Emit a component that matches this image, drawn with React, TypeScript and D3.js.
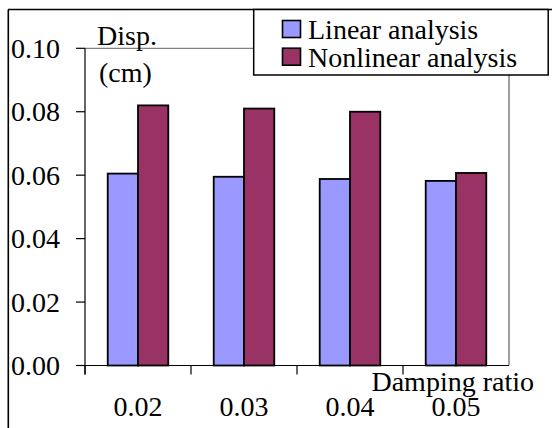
import React from "react";
import * as d3 from "d3";

// damping ratios along the x axis
const categories = ["0.02", "0.03", "0.04", "0.05"];
const seriesNames = ["Linear analysis", "Nonlinear analysis"];
const linearDisp = [0.0605, 0.0595, 0.0588, 0.0582];
const nonlinearDisp = [0.082, 0.081, 0.08, 0.0607];
const yTicks = [0, 0.02, 0.04, 0.06, 0.08, 0.1];
const colors = ["#9999FF", "#993366"];

const W = 552, H = 428;
const plot = { left: 85, right: 509, top: 48.3, bottom: 365.5 };
const txt = { fontFamily: "Liberation Serif, DejaVu Serif, serif", fontSize: 28 };

const App = () => {
  const series = [linearDisp, nonlinearDisp];

  const x0 = d3.scaleBand().domain(categories).range([plot.left, plot.right]).padding(0);
  const x1 = d3.scaleBand().domain(seriesNames).range([0, x0.bandwidth()])
    .paddingInner(0).paddingOuter(0.75);
  const y = d3.scaleLinear().domain([0, 0.1]).range([plot.bottom, plot.top]);
  const fmt = d3.format(".2f");

  return (
    <svg width={W} height={H} style={{ position: "absolute", left: 0, top: 0, background: "#fff" }}>
      {/* outer frame, cut off at right and bottom */}
      <line x1={8} y1={9.5} x2={W} y2={9.5} stroke="#000" strokeWidth={1.6} />
      <line x1={8.3} y1={9.5} x2={8.3} y2={H} stroke="#000" strokeWidth={1.6} />

      {/* plot area top/right border */}
      <line x1={plot.left} y1={plot.top} x2={plot.right} y2={plot.top} stroke="#808080" strokeWidth={1.2} />
      <line x1={plot.right} y1={plot.top} x2={plot.right} y2={plot.bottom} stroke="#808080" strokeWidth={1.5} />

      {/* bars */}
      {categories.map((c, i) => (
        <g key={c}>
          {seriesNames.map((s, j) => (
            <rect key={s}
              x={x0(c)! + x1(s)!}
              y={y(series[j][i])}
              width={x1.bandwidth()}
              height={plot.bottom - y(series[j][i])}
              fill={colors[j]} stroke="#000" strokeWidth={1.8} />
          ))}
        </g>
      ))}

      {/* y axis */}
      <line x1={plot.left} y1={plot.top} x2={plot.left} y2={plot.bottom + 9} stroke="#000" strokeWidth={1.2} />
      {yTicks.map(t => (
        <g key={t}>
          <line x1={plot.left - 9} y1={y(t)} x2={plot.left} y2={y(t)} stroke="#000" strokeWidth={1.2} />
          <text x={11} y={y(t) + 9.5} style={txt}>{fmt(t)}</text>
        </g>
      ))}

      {/* x axis */}
      <line x1={plot.left} y1={plot.bottom} x2={plot.right} y2={plot.bottom} stroke="#000" strokeWidth={1.2} />
      {categories.map(c => (
        <g key={c}>
          <line x1={x0(c)!} y1={plot.bottom} x2={x0(c)!} y2={plot.bottom + 9} stroke="#000" strokeWidth={1.2} />
          <text x={x0(c)! + x0.bandwidth() / 2} y={416} style={txt} textAnchor="middle">{c}</text>
        </g>
      ))}

      {/* axis titles */}
      <text x={97} y={45} style={txt}>Disp.</text>
      <text x={99} y={82} style={txt}>(cm)</text>
      <text x={534} y={391} style={txt} textAnchor="end">Damping ratio</text>

      {/* legend */}
      <rect x={253.7} y={9.5} width={294.5} height={65.5} fill="#fff" stroke="#000" strokeWidth={1.5} />
      {seriesNames.map((s, j) => (
        <g key={s}>
          <rect x={282.5} y={20.5 + j * 27.7} width={18} height={17} fill={colors[j]} stroke="#000" strokeWidth={1.6} />
          <text x={308} y={38.5 + j * 28} style={txt}>{s}</text>
        </g>
      ))}
    </svg>
  );
};

export default App;
